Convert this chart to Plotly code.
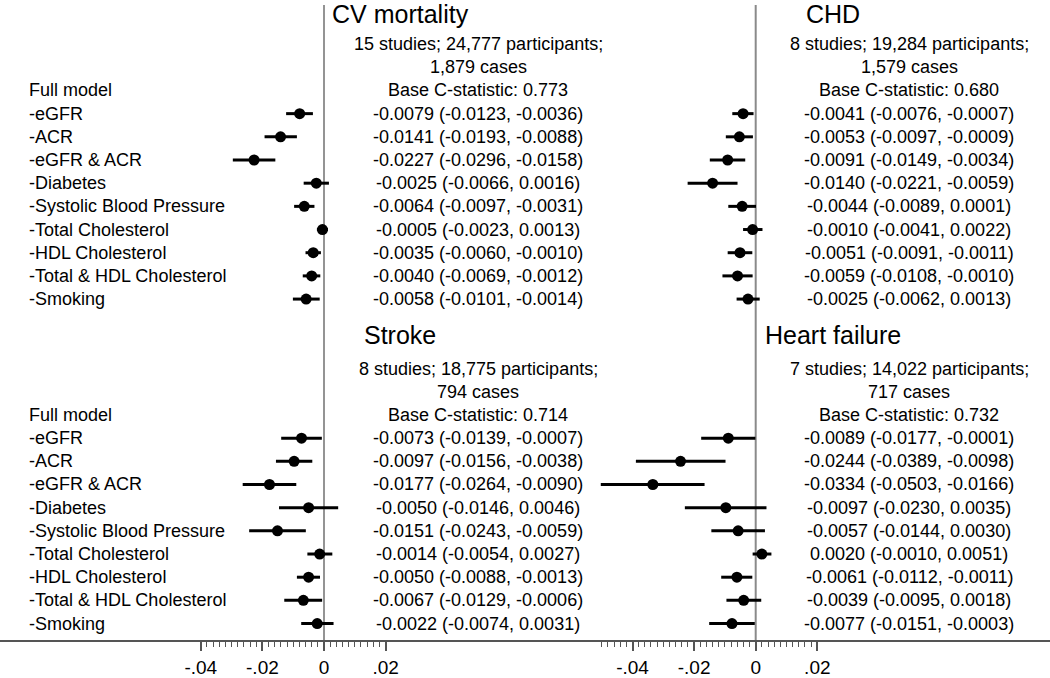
import plotly.graph_objects as go

# ---------------- data ----------------
row_labels = ["-eGFR", "-ACR", "-eGFR & ACR", "-Diabetes", "-Systolic Blood Pressure",
              "-Total Cholesterol", "-HDL Cholesterol", "-Total & HDL Cholesterol", "-Smoking"]

panel_titles = ["CV mortality", "CHD", "Stroke", "Heart failure"]
panel_studies = ["15 studies; 24,777 participants;", "8 studies; 19,284 participants;",
                 "8 studies; 18,775 participants;", "7 studies; 14,022 participants;"]
panel_cases = ["1,879 cases", "1,579 cases", "794 cases", "717 cases"]
panel_base = ["Base C-statistic: 0.773", "Base C-statistic: 0.680",
              "Base C-statistic: 0.714", "Base C-statistic: 0.732"]

cv_est = [-0.0079, -0.0141, -0.0227, -0.0025, -0.0064, -0.0005, -0.0035, -0.0040, -0.0058]
cv_lo = [-0.0123, -0.0193, -0.0296, -0.0066, -0.0097, -0.0023, -0.0060, -0.0069, -0.0101]
cv_hi = [-0.0036, -0.0088, -0.0158, 0.0016, -0.0031, 0.0013, -0.0010, -0.0012, -0.0014]

chd_est = [-0.0041, -0.0053, -0.0091, -0.0140, -0.0044, -0.0010, -0.0051, -0.0059, -0.0025]
chd_lo = [-0.0076, -0.0097, -0.0149, -0.0221, -0.0089, -0.0041, -0.0091, -0.0108, -0.0062]
chd_hi = [-0.0007, -0.0009, -0.0034, -0.0059, 0.0001, 0.0022, -0.0011, -0.0010, 0.0013]

stroke_est = [-0.0073, -0.0097, -0.0177, -0.0050, -0.0151, -0.0014, -0.0050, -0.0067, -0.0022]
stroke_lo = [-0.0139, -0.0156, -0.0264, -0.0146, -0.0243, -0.0054, -0.0088, -0.0129, -0.0074]
stroke_hi = [-0.0007, -0.0038, -0.0090, 0.0046, -0.0059, 0.0027, -0.0013, -0.0006, 0.0031]

hf_est = [-0.0089, -0.0244, -0.0334, -0.0097, -0.0057, 0.0020, -0.0061, -0.0039, -0.0077]
hf_lo = [-0.0177, -0.0389, -0.0503, -0.0230, -0.0144, -0.0010, -0.0112, -0.0095, -0.0151]
hf_hi = [-0.0001, -0.0098, -0.0166, 0.0035, 0.0030, 0.0051, -0.0011, 0.0018, -0.0003]

tick_vals = [-0.04, -0.02, 0, 0.02]
tick_text = ["-.04", "-.02", "0", ".02"]

# ---------------- layout helpers ----------------
FONT = "Liberation Sans, Arial, Helvetica, sans-serif"
W, H = 1050, 678
PX_PER_UNIT = 3080.0          # pixels per 1.0 on the x scale
ZERO_LEFT, ZERO_RIGHT = 324.0, 755.7
ROW_H, ROW0_PX = 23.25, 114.0
AXIS_PX = 642.0

panels = [
    dict(est=cv_est, lo=cv_lo, hi=cv_hi, xa="x", side=0, off=0, ti=0),
    dict(est=chd_est, lo=chd_lo, hi=chd_hi, xa="x2", side=1, off=0, ti=1),
    dict(est=stroke_est, lo=stroke_lo, hi=stroke_hi, xa="x", side=0, off=14, ti=2),
    dict(est=hf_est, lo=hf_lo, hi=hf_hi, xa="x2", side=1, off=14, ti=3),
]
num_center_px = [478, 909]
title_center_px = [400, 833]
title_row = [-4.3, 9.55]

fig = go.Figure()
annotations = []

for p in panels:
    ys = [p["off"] + i for i in range(len(p["est"]))]
    plus = [h - e for h, e in zip(p["hi"], p["est"])]
    minus = [e - l for e, l in zip(p["est"], p["lo"])]
    fig.add_trace(go.Scatter(
        x=p["est"], y=ys, xaxis=p["xa"], yaxis="y", mode="markers",
        marker=dict(color="black", size=11),
        error_x=dict(type="data", symmetric=False, array=plus, arrayminus=minus,
                     color="black", thickness=3, width=0),
        showlegend=False, hoverinfo="skip"))
    xc = num_center_px[p["side"]] / W
    for i, (e, l, h) in enumerate(zip(p["est"], p["lo"], p["hi"])):
        annotations.append(dict(x=xc, y=p["off"] + i, xref="paper", yref="y",
                                text=f"{e:.4f} ({l:.4f}, {h:.4f})", showarrow=False,
                                xanchor="center", yanchor="middle",
                                font=dict(size=18, color="black", family=FONT)))
    ti = p["ti"]
    for k, txt in zip([-3, -2, -1], [panel_studies[ti], panel_cases[ti], panel_base[ti]]):
        annotations.append(dict(x=xc, y=p["off"] + k, xref="paper", yref="y", text=txt,
                                showarrow=False, xanchor="center", yanchor="middle",
                                font=dict(size=18, color="black", family=FONT)))
    annotations.append(dict(x=title_center_px[p["side"]] / W,
                            y=title_row[0 if p["off"] == 0 else 1],
                            xref="paper", yref="y", text=panel_titles[ti], showarrow=False,
                            xanchor="center", yanchor="middle",
                            font=dict(size=25, color="black", family=FONT)))
    if p["side"] == 0:
        annotations.append(dict(x=27 / W, y=p["off"] - 1, xref="paper", yref="y",
                                text="Full model", showarrow=False, xanchor="left",
                                yanchor="middle", font=dict(size=18, color="black", family=FONT)))
        for i, lab in enumerate(row_labels):
            annotations.append(dict(x=27 / W, y=p["off"] + i, xref="paper", yref="y",
                                    text=lab, showarrow=False, xanchor="left", yanchor="middle",
                                    font=dict(size=18, color="black", family=FONT)))

# axis ranges
split = 525.0
left_range = [(0 - ZERO_LEFT) / PX_PER_UNIT, (split - ZERO_LEFT) / PX_PER_UNIT]
right_range = [(split - ZERO_RIGHT) / PX_PER_UNIT, (W - ZERO_RIGHT) / PX_PER_UNIT]
y_top = (0 - ROW0_PX) / ROW_H
y_bot = (AXIS_PX - ROW0_PX) / ROW_H

minor_left = [round(-0.04 + 0.002 * k, 4) for k in range(31)]
minor_right = [round(-0.05 + 0.002 * k, 4) for k in range(36)]

axis_common = dict(showgrid=False, zeroline=False, showline=True, linecolor="#555555",
                   linewidth=2, ticks="outside", ticklen=9, tickwidth=1.5, tickcolor="#555555",
                   tickmode="array", tickvals=tick_vals, ticktext=tick_text,
                   tickfont=dict(size=19, color="black", family=FONT), anchor="y",
                   fixedrange=True)

fig.update_layout(
    width=W, height=H, margin=dict(l=0, r=0, t=0, b=H - AXIS_PX),
    paper_bgcolor="white", plot_bgcolor="white",
    xaxis=dict(domain=[0, split / W], range=left_range,
               minor=dict(tickmode="array", tickvals=minor_left, ticks="outside",
                          ticklen=5, tickwidth=1, tickcolor="#555555"),
               **axis_common),
    xaxis2=dict(domain=[split / W, 1], range=right_range,
                minor=dict(tickmode="array", tickvals=minor_right, ticks="outside",
                           ticklen=5, tickwidth=1, tickcolor="#555555"),
                **axis_common),
    yaxis=dict(range=[y_bot, y_top], visible=False, fixedrange=True),
    annotations=annotations,
    shapes=[
        dict(type="line", xref="x", yref="paper", x0=0, x1=0, y0=0, y1=1 - 5 / AXIS_PX,
             line=dict(color="#707070", width=1.5), layer="below"),
        dict(type="line", xref="x2", yref="paper", x0=0, x1=0, y0=0, y1=1 - 5 / AXIS_PX,
             line=dict(color="#8a8a8a", width=2), layer="below"),
    ],
)

fig.write_html("out.html", config={"displayModeBar": False},
               post_script="document.body.style.margin='0';document.body.style.overflow='hidden';")
